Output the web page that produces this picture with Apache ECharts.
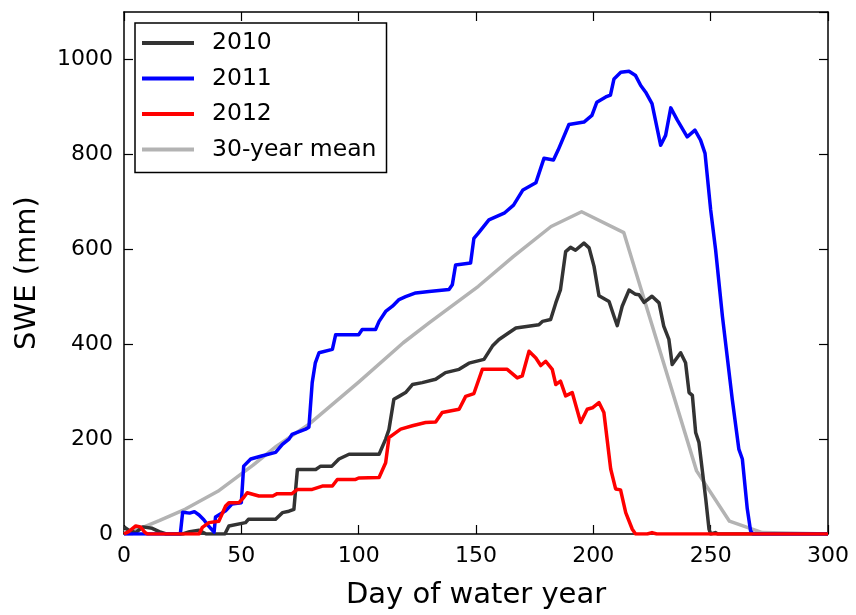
<!DOCTYPE html>
<html><head><meta charset="utf-8">
<script src="https://cdn.jsdelivr.net/npm/echarts@6/dist/echarts.min.js"></script>
<style>html,body{margin:0;padding:0;background:#fff}#c{width:856px;height:615px}</style>
</head><body><div id="c"></div>
<script>
const xTicks = [0, 50, 100, 150, 200, 250, 300];
const yTicks = [0, 200, 400, 600, 800, 1000];

const seriesNames = ['2010', '2011', '2012', '30-year mean'];

const days2010 = [0,2,5,8,12,15,18,25,28,32,35,43,44.7,51.8,53,64.6,67.5,70.3,72.4,73.9,81.7,83.8,88.6,91.6,95.9,108.7,111.5,112.9,115,117.2,120,122.9,127.1,132.8,137,142.8,147,153.4,157,159.8,164,167,176.8,178.3,181.8,184,186,188.2,190.3,192.4,196,198.2,200.3,202.4,206.7,208.8,210.2,212.3,215.2,218,219.5,221.6,225,228,230,232.2,233.6,237.2,239.3,240.8,242.2,243.6,245,247.9,249.3,250,252,253,300];
const swe2010 = [15,8,3,15,12,5,0,0,5,8,0,0,17,24,31,31,45,48,52,136,136,143,143,158,168,168,200,220,284,290,298,315,319,326,340,347,360,368,396,410,424,434,441,448,452,487,515,595,604,598,613,603,564,502,490,459,439,480,514,505,504,488,501,487,438,410,357,382,361,298,292,214,193,74,10,0,3,0,0];

const days2011 = [0,24,25,28,30,32,34,36,38.4,39,43.3,46,50,51,54,59,64.6,67.5,70.3,71.6,77.4,78.8,80.2,81.5,83.1,88.8,90.2,100,101.5,107.2,108.7,111.5,114.4,117.2,120,124.3,130,138.5,139.9,141.3,147.7,149.1,151,155.5,162,166,170,175.5,179,183,185,189.6,196,199.4,201.5,205.3,207.3,208.8,211.7,215.2,218,220.2,222.3,225,228.7,230.8,233,235.8,240,243.3,245.7,247.6,250,252.1,255,259.2,262,263.5,265.6,267,268,300];
const swe2011 = [0,0,46,44,47,40,30,17,4,36,49,63,66,143,158,165,172,189,200,210,221,225,319,360,382,389,420,420,431,431,448,469,480,494,500,508,511,515,525,567,571,623,634,662,676,693,725,740,792,788,809,863,868,882,910,921,925,959,973,975,966,945,931,907,819,840,898,872,837,851,830,802,683,599,459,284,179,158,53,7,0,0];

const days2012 = [0,2,5,7,9,10,32,33.4,36.2,40.4,43.3,44.7,49,51,52.5,57.5,63.4,65.3,71.6,73.9,80.2,84.5,88.8,90.9,98.7,100,108.7,111.5,112.9,117.9,122.9,128.5,132.8,135.6,142.8,145.6,149.1,152.7,163.3,167.6,169.7,172.6,175.5,177.6,179.7,182.5,184,186,188.2,191,194.6,197.4,199.6,202.4,204.5,207.4,209.5,211.6,213.8,216.6,218,223,225,227,300];
const swe2012 = [0,5,17,15,3,0,0,14,24,27,59,66,66,77,87,80,80,85,85,94,94,101,101,115,115,118,119,150,203,221,228,235,236,256,263,290,296,347,347,329,333,385,371,355,364,347,315,322,291,298,235,263,266,277,256,137,95,93,45,10,0,0,3,0,0];

const daysMean = [0,6,15,26,40,55,65,79,100,119,130,151,166,182,195,213,244,258,272,300];
const sweMean = [5,10,28,52,90,145,185,232,320,403,445,522,585,648,679,635,133,27,3,0];

const zip = (d, v) => d.map((x, i) => [x, v[i]]);
const FONT = 'DejaVu Sans';

const chart = echarts.init(document.getElementById('c'), null, {renderer: 'canvas'});
const axisCommon = {
  axisLine: {show: true, onZero: false, lineStyle: {color: '#000', width: 1.5}},
  axisTick: {show: true, inside: true, length: 9, lineStyle: {color: '#000', width: 1.2}},
  splitLine: {show: false}
};
const lineSeries = (name, data, color, z) => ({
  name, type: 'line', data, symbol: 'none', showSymbol: false, z,
  lineStyle: {color, width: 3.5, join: 'round'}, itemStyle: {color},
  animation: false
});

chart.setOption({
  animation: false,
  backgroundColor: '#fff',
  grid: {left: 124, right: 28, top: 12, bottom: 80, containLabel: false},
  xAxis: [
    Object.assign({}, axisCommon, {
      type: 'value', min: 0, max: 300, interval: 50, position: 'bottom',
      name: 'Day of water year', nameLocation: 'middle', nameGap: 47,
      nameTextStyle: {fontFamily: FONT, fontSize: 29, color: '#000'},
      axisLabel: {fontFamily: FONT, fontSize: 22, color: '#000', margin: 11,
        formatter: v => xTicks.includes(v) ? String(v) : ''}
    }),
    Object.assign({}, axisCommon, {
      type: 'value', min: 0, max: 300, interval: 50, position: 'top',
      axisLabel: {show: false}
    })
  ],
  yAxis: [
    Object.assign({}, axisCommon, {
      type: 'value', min: 0, max: 1100, interval: 200, position: 'left',
      name: 'SWE (mm)', nameLocation: 'middle', nameGap: 82, nameRotate: 90,
      nameTextStyle: {fontFamily: FONT, fontSize: 29, color: '#000'},
      axisLabel: {fontFamily: FONT, fontSize: 22, color: '#000', margin: 11,
        showMaxLabel: false,
        formatter: v => yTicks.includes(v) ? String(v) : ''}
    }),
    Object.assign({}, axisCommon, {
      type: 'value', min: 0, max: 1100, interval: 200, position: 'right',
      axisLabel: {show: false}
    })
  ],
  legend: {
    data: seriesNames.map(n => ({name: n, icon: 'rect'})),
    orient: 'vertical', left: 135, top: 23,
    backgroundColor: '#fff', borderColor: '#000', borderWidth: 1.5, borderRadius: 0,
    padding: [8, 10, 11, 7],
    itemWidth: 52, itemHeight: 4, itemGap: 11.5,
    textStyle: {fontFamily: FONT, fontSize: 23.5, color: '#000', padding: [0, 0, 0, 13]}
  },
  series: [
    lineSeries(seriesNames[0], zip(days2010, swe2010), '#333333', 3),
    lineSeries(seriesNames[1], zip(days2011, swe2011), '#0000ff', 3),
    lineSeries(seriesNames[2], zip(days2012, swe2012), '#ff0000', 3),
    lineSeries(seriesNames[3], zip(daysMean, sweMean), '#b3b3b3', 2)
  ]
});
</script></body></html>
